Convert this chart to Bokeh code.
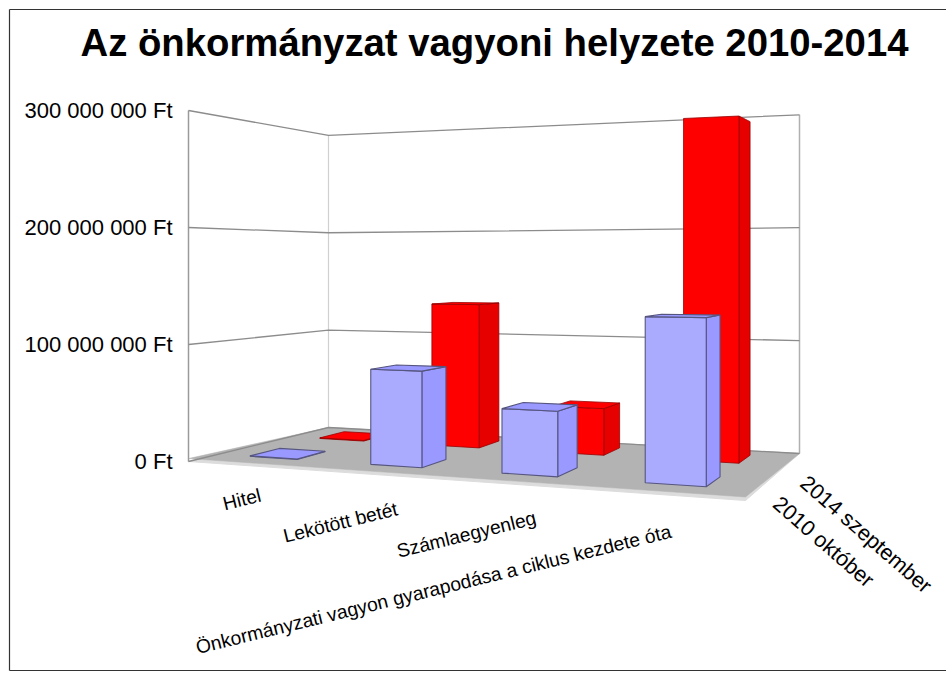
from bokeh.plotting import figure
from bokeh.models import Range1d, ColumnDataSource
from bokeh.core.properties import value
from bokeh.embed import file_html
from bokeh.resources import INLINE
import math

title = "Az önkormányzat vagyoni helyzete 2010-2014"
categories = ["Hitel", "Lekötött betét", "Számlaegyenleg",
              "Önkormányzati vagyon gyarapodása a ciklus kezdete óta"]
series_names = ["2010 október", "2014 szeptember"]
values_2010 = [400_000, 80_000_000, 52_000_000, 128_000_000]
values_2014 = [600_000, 131_000_000, 41_000_000, 293_000_000]
ticks = [0, 100_000_000, 200_000_000, 300_000_000]
tick_labels = ["0 Ft", "100 000 000 Ft", "200 000 000 Ft", "300 000 000 Ft"]

W, H = 946, 677
FONT = value("Liberation Sans")

# Projection of the 3-D box (u along categories, v in depth, h = value) to the page
X0, Y0 = 188, 461   # front left
X1, Y1 = 745, 500   # front right
X2, Y2 = 799, 453   # back right
X3, Y3 = 328, 427   # back left
UNIT = 117 / 100_000_000

dx1, dx2, sx = X1 - X2, X3 - X2, X0 - X1 + X2 - X3
dy1, dy2, sy = Y1 - Y2, Y3 - Y2, Y0 - Y1 + Y2 - Y3
det = dx1 * dy2 - dx2 * dy1
P = (sx * dy2 - dx2 * sy) / det
Q = (dx1 * sy - sx * dy1) / det
A, B = X1 - X0 + P * X1, X3 - X0 + Q * X3
D, E = Y1 - Y0 + P * Y1, Y3 - Y0 + Q * Y3


def proj(u, v, h=0.0):
    w = 1 + P * u + Q * v
    return (A * u + B * v + X0) / w, (D * u + E * v + Y0 - UNIT * h) / w


p = figure(width=W, height=H, output_backend="svg", toolbar_location=None,
           x_range=Range1d(0, W), y_range=Range1d(H, 0),
           min_border=0, outline_line_color=None)
p.axis.visible = False
p.grid.visible = False
p.background_fill_color = "white"
p.border_fill_color = "#FFFFFF"

# Frame of the picture
p.multi_line(xs=[[9, 9], [9, W], [9, W]], ys=[[9, 670], [9, 9], [670, 670]],
             line_color="#333333", line_width=1.2)

# Floor: light slab beneath a grey top
fl = [proj(0, 0), proj(1, 0), proj(1, 1), proj(0, 1)]
p.patch([c[0] for c in fl], [c[1] for c in fl], fill_color="#DCDCDC", line_color="#DCDCDC", line_width=1)
top_h = 2_500_000
ft = [proj(0, 0, top_h), proj(1, 0, top_h), proj(1, 1), proj(0, 1)]
p.patch([c[0] for c in ft], [c[1] for c in ft], fill_color="#B3B3B3", line_color="#B3B3B3", line_width=0.5)

# Wall edges and gridlines
top = ticks[-1]
for u, v, col, wd in [(0, 0, "#9A9A9A", 1.5), (0, 1, "#D0D0D0", 1.2), (1, 1, "#B0B0B0", 1.5)]:
    a, b = proj(u, v), proj(u, v, top)
    p.line([a[0], b[0]], [a[1], b[1]], line_color=col, line_width=wd)
for t in ticks:
    pts = [proj(0, 0, t), proj(0, 1, t), proj(1, 1, t)]
    p.line([c[0] for c in pts], [c[1] for c in pts], line_color="#8C8C8C", line_width=1.3)

# Bars
BAR_W = 0.10
U_SHIFT = -0.006
DEPTHS = [(0.185, 0.385), (0.69, 0.89)]
STYLES = [
    dict(front="#AAAAFF", side="#9999FF", top="#9999FF", line="#55557F", lw=1.1),
    dict(front="#FF0000", side="#E60000", top="#FF0000", line="#990000", lw=0.8),
]


def draw_series(vals, depth, st):
    v0, v1 = depth
    for i, val in enumerate(vals):
        uc = (i + 0.5) / len(vals) + U_SHIFT
        u0, u1 = uc - BAR_W / 2, uc + BAR_W / 2
        faces = [
            ([proj(u1, v0), proj(u1, v1), proj(u1, v1, val), proj(u1, v0, val)], st["side"]),
            ([proj(u0, v0), proj(u1, v0), proj(u1, v0, val), proj(u0, v0, val)], st["front"]),
        ]
        # the top is only seen when the bar ends below the eye
        if proj(uc, v1, val)[1] < proj(uc, v0, val)[1]:
            faces.append(([proj(u0, v0, val), proj(u1, v0, val), proj(u1, v1, val), proj(u0, v1, val)], st["top"]))
        for pts, col in faces:
            p.patch([c[0] for c in pts], [c[1] for c in pts], fill_color=col,
                    line_color=st["line"], line_width=st["lw"])


draw_series(values_2014, DEPTHS[1], STYLES[1])
draw_series(values_2010, DEPTHS[0], STYLES[0])

# Title
p.text([494], [42], text=[title], text_font=FONT, text_font_style="bold",
       text_font_size="38.3px", text_align="center", text_baseline="middle", text_color="#000000")

# Value labels
p.text([172] * len(ticks), [proj(0, 0, t)[1] for t in ticks], text=tick_labels, text_font=FONT,
       text_font_size="22px", text_align="right", text_baseline="middle", text_color="#000000")

# Category labels
cat_src = ColumnDataSource(dict(x=[241.5, 340, 466, 433], y=[499, 522, 534, 589], t=categories))
p.text("x", "y", text="t", source=cat_src, text_font=FONT, text_font_size="19.3px",
       angle=math.radians(13.8), text_align="center", text_baseline="middle", text_color="#000000")

# Depth labels
p.text([823, 865.5], [541.5, 534], text=series_names, text_font=FONT, text_font_size="21.5px",
       angle=math.radians(-41), text_align="center", text_baseline="middle", text_color="#000000")

open("out.html", "w").write(file_html(p, INLINE))
